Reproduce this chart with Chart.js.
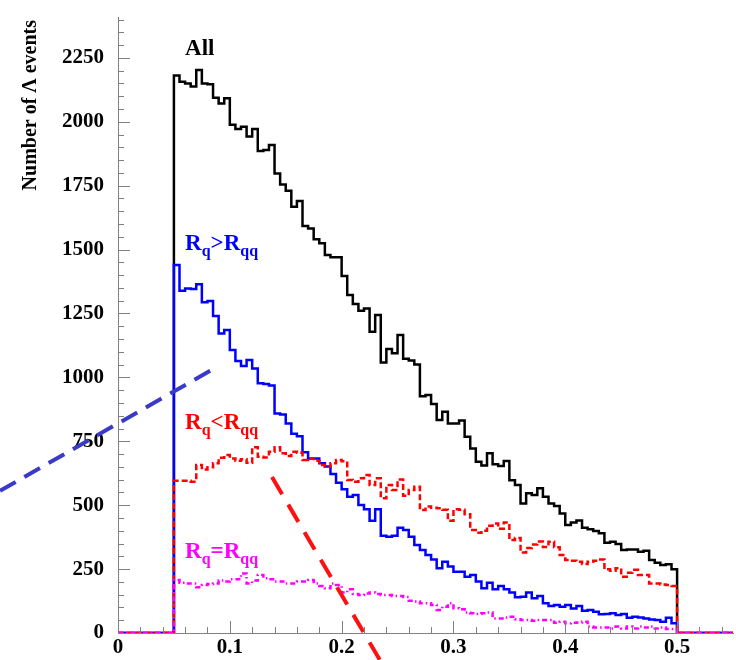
<!DOCTYPE html>
<html>
<head>
<meta charset="utf-8">
<script src="https://cdn.jsdelivr.net/npm/chart.js@4.4.0/dist/chart.umd.min.js"></script>
<style>
  html, body { margin: 0; padding: 0; background: #fff; }
  #lambdaChart { display: block; }
</style>
</head>
<body>
<canvas id="lambdaChart" width="736" height="660"></canvas>
<script>
// Lambda event counts per bin, 90 bins of 0.005 from 0.05 to 0.5
const binStart = 0.05;
const binWidth = 0.005;
const xMin = 0;
const xMax = 0.55;
const yMin = 0;
const yMax = 2410;

const xTicks = [0, 0.1, 0.2, 0.3, 0.4, 0.5];
const yTicks = [0, 250, 500, 750, 1000, 1250, 1500, 1750, 2000, 2250];

const allEvents = [
  2181, 2157, 2150, 2138, 2203, 2150, 2147, 2094, 2072, 2092,
  1988, 1972, 1981, 1942, 1972, 1886, 1890, 1909, 1798, 1755,
  1730, 1668, 1690, 1592, 1583, 1540, 1525, 1479, 1470, 1470,
  1397, 1322, 1287, 1261, 1270, 1179, 1244, 1058, 1111, 1094,
  1166, 1073, 1066, 1050, 926, 931, 896, 833, 866, 820,
  820, 831, 768, 722, 670, 655, 703, 660, 653, 673,
  598, 579, 507, 547, 540, 566, 533, 507, 497, 468,
  423, 432, 440, 412, 406, 399, 390, 353, 357, 348,
  325, 327, 327, 318, 322, 286, 275, 266, 269, 249
];

const rqGreater = [
  1440, 1339, 1348, 1346, 1364, 1294, 1299, 1240, 1172, 1185,
  1107, 1064, 1045, 1068, 1035, 977, 974, 968, 859, 855,
  820, 780, 770, 707, 683, 683, 664, 651, 622, 588,
  562, 533, 540, 501, 484, 439, 484, 380, 377, 380,
  412, 403, 377, 344, 325, 305, 288, 253, 279, 260,
  240, 240, 220, 227, 201, 175, 197, 171, 184, 171,
  158, 140, 142, 158, 136, 145, 116, 106, 110, 103,
  110, 96, 106, 87, 90, 83, 73, 74, 77, 70,
  74, 60, 64, 61, 57, 53, 51, 44, 60, 38
];

const rqLess = [
  596, 596, 596, 592, 657, 640, 648, 664, 686, 696,
  683, 674, 680, 666, 727, 690, 687, 709, 727, 703,
  692, 709, 705, 677, 683, 674, 657, 651, 664, 677,
  672, 599, 592, 605, 618, 579, 605, 527, 579, 559,
  601, 537, 559, 572, 481, 495, 490, 488, 482, 439,
  484, 482, 465, 403, 392, 400, 420, 428, 408, 432,
  364, 372, 315, 333, 346, 358, 336, 357, 335, 305,
  286, 283, 279, 270, 279, 283, 288, 249, 244, 253,
  220, 236, 247, 227, 227, 194, 194, 190, 188, 184
];

const rqEqual = [
  207, 197, 194, 194, 179, 188, 192, 194, 205, 201,
  210, 210, 233, 194, 205, 227, 214, 210, 201, 201,
  194, 194, 201, 201, 207, 194, 184, 175, 194, 188,
  158, 171, 153, 149, 155, 158, 153, 149, 149, 145,
  145, 141, 126, 123, 116, 116, 110, 90, 103, 116,
  97, 93, 80, 77, 74, 77, 80, 57, 57, 61,
  64, 54, 51, 51, 48, 51, 51, 51, 40, 44,
  38, 40, 41, 44, 25, 22, 22, 22, 18, 25,
  18, 25, 18, 25, 22, 25, 18, 22, 16, 16
];

// straight dashed guides, endpoints in axis units (they run past the frame)
const blueGuideX = [-0.1055, 0.0868];
const blueGuideY = [556, 1037];
const redGuideX = [0.1377, 0.2343];
const redGuideY = [610, -106];

const SERIF = "'Liberation Serif', 'Times New Roman', serif";
const AXIS_COLOR = '#808080';
const Y_TITLE = 'Number of \u039B events';

// turn bin contents into step points: empty from xMin, filled bins, empty to xMax
function toSteps(values) {
  const pts = [{ x: xMin, y: 0 }];
  values.forEach((v, i) => pts.push({ x: binStart + i * binWidth, y: v }));
  pts.push({ x: binStart + values.length * binWidth, y: 0 });
  pts.push({ x: xMax, y: 0 });
  return pts;
}

function toLine(xs, ys) {
  return xs.map((x, i) => ({ x, y: ys[i] }));
}

function histDataset(values, color, dash) {
  return {
    data: toSteps(values),
    borderColor: color,
    borderWidth: 2.5,
    borderDash: dash,
    stepped: 'before', // horizontal across the bin, then vertical at the edge
    pointRadius: 0,
    fill: false
  };
}

// in-frame labels, Rq/Rqq drawn with subscripts
const textLabels = [
  { parts: [['All', 0]], x: 0.06, y: 2262, color: '#000000' },
  { parts: [['R', 0], ['q', 1], ['>', 0], ['R', 0], ['qq', 1]], x: 0.06, y: 1500, color: '#0000ff' },
  { parts: [['R', 0], ['q', 1], ['<', 0], ['R', 0], ['qq', 1]], x: 0.06, y: 797, color: '#ff0000' },
  { parts: [['R', 0], ['q', 1], ['=', 0], ['R', 0], ['qq', 1]], x: 0.06, y: 295, color: '#ff00ff' }
];

const rootFrame = {
  id: 'rootFrame',
  afterDatasetsDraw(chart) {
    const { ctx, chartArea, scales: { x, y } } = chart;
    ctx.save();
    ctx.strokeStyle = AXIS_COLOR;
    ctx.lineWidth = 1;
    ctx.beginPath();
    // x ticks point up into the frame: long every 0.1, short every 0.02
    for (let i = 0; i * 0.02 <= xMax + 1e-9; i++) {
      const px = Math.round(x.getPixelForValue(i * 0.02)) + 0.5;
      const len = i % 5 === 0 ? 12 : 6;
      ctx.moveTo(px, chartArea.bottom);
      ctx.lineTo(px, chartArea.bottom - len);
    }
    // y ticks point right: long every 250, short every 50
    for (let i = 0; i * 50 <= yMax; i++) {
      const py = Math.round(y.getPixelForValue(i * 50)) + 0.5;
      const len = i % 5 === 0 ? 12 : 6;
      ctx.moveTo(chartArea.left, py);
      ctx.lineTo(chartArea.left + len, py);
    }
    ctx.stroke();
    ctx.restore();
  },
  afterDraw(chart) {
    const { ctx, chartArea, scales: { x, y } } = chart;
    ctx.save();
    ctx.textBaseline = 'alphabetic';
    textLabels.forEach(lbl => {
      let px = x.getPixelForValue(lbl.x);
      const py = y.getPixelForValue(lbl.y);
      ctx.fillStyle = lbl.color;
      lbl.parts.forEach(([txt, sub]) => {
        ctx.font = sub ? `bold 16px ${SERIF}` : `bold 23px ${SERIF}`;
        ctx.fillText(txt, px, sub ? py + 6 : py);
        px += ctx.measureText(txt).width;
      });
    });
    // y-axis title, rotated, ending just below the frame top
    ctx.translate(chartArea.left - 87, chartArea.top + 3);
    ctx.rotate(-Math.PI / 2);
    ctx.font = `bold 20px ${SERIF}`;
    ctx.fillStyle = '#000';
    ctx.textAlign = 'right';
    ctx.textBaseline = 'middle';
    ctx.fillText(Y_TITLE, 0, 0);
    ctx.restore();
  }
};

// keep the frame edges fixed: no extra room reserved for edge labels
function noEdgePadding(scale) {
  scale.paddingLeft = 0;
  scale.paddingRight = 0;
  scale.paddingTop = 0;
  scale.paddingBottom = 0;
}

new Chart(document.getElementById('lambdaChart'), {
  type: 'line',
  data: {
    datasets: [
      {
        data: toLine(blueGuideX, blueGuideY),
        borderColor: '#3a3ac8',
        borderWidth: 4,
        borderDash: [18, 10],
        pointRadius: 0,
        clip: false
      },
      {
        data: toLine(redGuideX, redGuideY),
        borderColor: '#ff1010',
        borderWidth: 4,
        borderDash: [20, 12],
        pointRadius: 0,
        clip: false
      },
      histDataset(rqEqual, '#ff00ff', [5, 3, 1.5, 3]),
      histDataset(rqLess, '#ff0000', [6, 3]),
      histDataset(rqGreater, '#0000ff', []),
      histDataset(allEvents, '#000000', [])
    ]
  },
  options: {
    responsive: false,
    animation: false,
    layout: { padding: { top: 17, right: 3, left: 0, bottom: 0 } },
    plugins: {
      legend: { display: false },
      tooltip: { enabled: false }
    },
    scales: {
      x: {
        type: 'linear',
        min: xMin,
        max: xMax,
        grid: { display: false, drawTicks: false },
        border: { display: true, color: AXIS_COLOR, width: 1 },
        ticks: {
          autoSkip: false,
          maxRotation: 0,
          padding: 2,
          color: '#000',
          font: { family: SERIF, size: 21, weight: 'bold' },
          callback: v => (v === 0 ? '0' : v.toFixed(1))
        },
        afterBuildTicks: scale => { scale.ticks = xTicks.map(v => ({ value: v })); },
        afterFit: scale => { scale.height = 27; noEdgePadding(scale); }
      },
      y: {
        type: 'linear',
        min: yMin,
        max: yMax,
        grid: { display: false, drawTicks: false },
        border: { display: true, color: AXIS_COLOR, width: 1 },
        ticks: {
          autoSkip: false,
          padding: 14,
          color: '#000',
          font: { family: SERIF, size: 21, weight: 'bold' },
          callback: v => String(v)
        },
        afterBuildTicks: scale => { scale.ticks = yTicks.map(v => ({ value: v })); },
        afterFit: scale => { scale.width = 118; noEdgePadding(scale); }
      }
    }
  },
  plugins: [rootFrame]
});
</script>
</body>
</html>
